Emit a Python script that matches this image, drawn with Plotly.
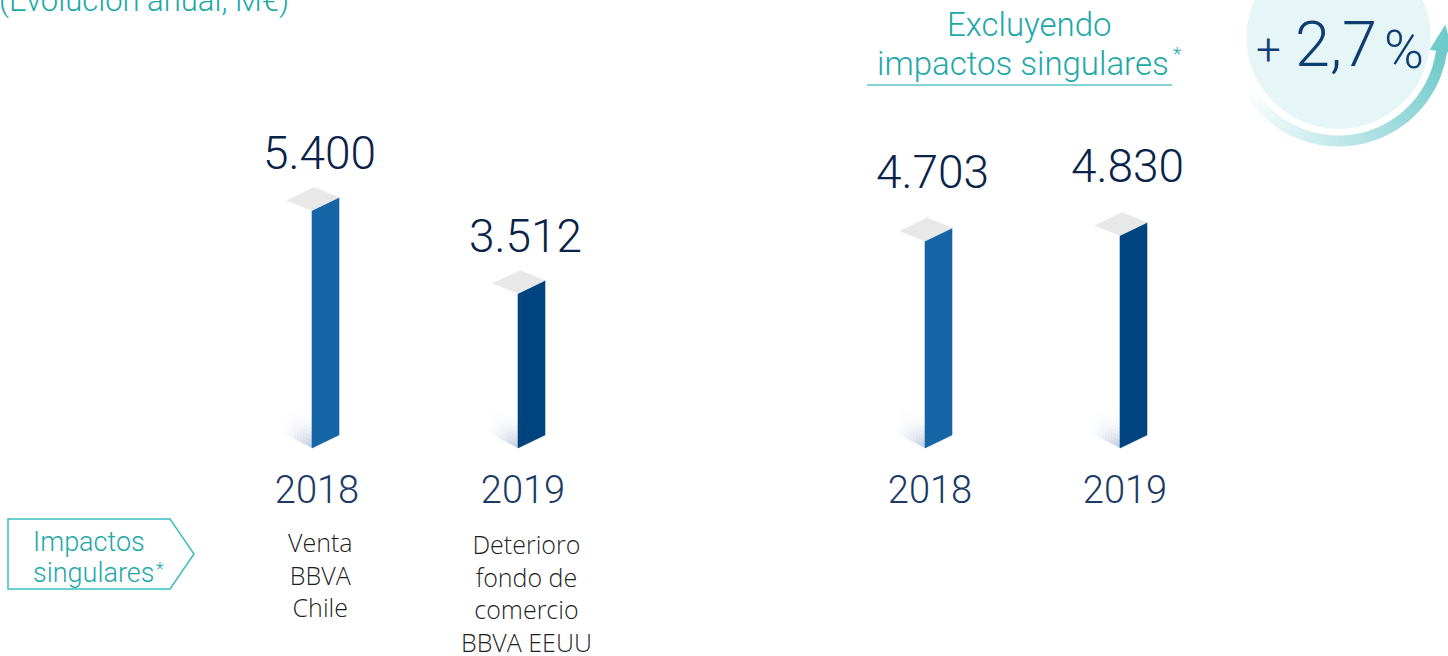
import math
import plotly.graph_objects as go

W, H = 1448, 656

# ---------------- data ----------------
years = ["2018", "2019"]
net_profit_reported = [5400, 3512]          # con impactos singulares
net_profit_excl = [4703, 4830]              # excluyendo impactos singulares
labels_reported = ["5.400", "3.512"]
labels_excl = ["4.703", "4.830"]
impact_notes = ["Venta<br>BBVA<br>Chile", "Deterioro<br>fondo de<br>comercio<br>BBVA EEUU"]
growth_parts = ["+", "2,7", "%"]
title_text = "(Evolución anual, M€)"
box_lines = ["Impactos", "singulares"]
header_lines = ["Excluyendo", "impactos singulares"]

# ---------------- styles ----------------
FONT = "Roboto"
FONT_NOTE = "Open Sans"
TEAL = "#1DA8A8"
NAVY_VAL = "#0B2249"
NAVY_YEAR = "#1C3A66"
NAVY_GROWTH = "#0E3D72"
DARK = "#1F1F1F"
BAR_COLORS = ["#1665A7", "#00447F"]
TOP_COLOR = "#E8E8E8"

BASE_PX = 448          # pixel row of value 0
PPU = 0.044            # pixels per unit
y_range = [(BASE_PX - H) / PPU, BASE_PX / PPU]


def px_x(x):
    return x / W


def px_y(y):
    return 1 - y / H


groups = [
    dict(xaxis="x", slot0=317, step=206, values=net_profit_reported,
         labels=labels_reported, label_shift=57),
    dict(xaxis="x2", slot0=930, step=195, values=net_profit_excl,
         labels=labels_excl, label_shift=69),
]

FRONT_OFF, FRONT_W, RISE = -5, 27, 13
DEPTH_X, DEPTH_Y = -25, 10
SH_X, SH_Y, SH_H = -30, 15, 32

fig = go.Figure()
shapes = []
annotations = []


def poly(xs, ys, color, xaxis):
    fig.add_trace(go.Scatter(
        x=xs + [xs[0]], y=ys + [ys[0]], mode="lines", fill="toself",
        fillcolor=color, line=dict(width=0.6, color=color),
        hoverinfo="skip", showlegend=False, xaxis=xaxis, yaxis="y"))


for g in groups:
    step = g["step"]

    def ux(p):
        return p / step

    def uy(p):
        return p / PPU

    for i, v in enumerate(g["values"]):
        x0 = i + ux(FRONT_OFF)
        wx, wy = ux(FRONT_W), uy(RISE)
        dx, dy = ux(DEPTH_X), uy(DEPTH_Y)
        # shadow (gradient cells)
        ns, nt = 10, 8
        sdx, sdy, sh = ux(SH_X), uy(SH_Y), uy(SH_H)
        for s in range(ns):
            for t in range(nt):
                a0, a1 = s / ns, (s + 1) / ns
                b0, b1 = t / nt, (t + 1) / nt
                am, bm = (a0 + a1) / 2, (b0 + b1) / 2
                alpha = 0.6 * (1 - am) ** 1.4 * (1 - bm) ** 1.6

                def P(a, b):
                    return (x0 + a * sdx, a * sdy + b * sh)
                pts = [P(a0, b0), P(a1, b0), P(a1, b1), P(a0, b1)]
                path = "M " + " L ".join(f"{px},{py}" for px, py in pts) + " Z"
                shapes.append(dict(type="path", path=path, xref=g["xaxis"], yref="y",
                                   fillcolor=f"rgba(140,162,195,{alpha:.3f})",
                                   line=dict(width=0), layer="below"))
        # front face
        poly([x0, x0 + wx, x0 + wx, x0], [0, wy, v + wy, v], BAR_COLORS[i], g["xaxis"])
        # top face
        poly([x0, x0 + wx, x0 + wx + dx, x0 + dx], [v, v + wy, v + wy + dy, v + dy],
             TOP_COLOR, g["xaxis"])
        # value label
        annotations.append(dict(
            x=i, y=v, xref=g["xaxis"], yref="y", text=g["labels"][i], showarrow=False,
            xanchor="center", yanchor="middle", yshift=g["label_shift"], xshift=2,
            font=dict(family=FONT, size=46, color=NAVY_VAL, weight=300)))

# descriptions of singular impacts (left group)
NOTE_TOP = [522.5, 524.5]
for i, note in enumerate(impact_notes):
    annotations.append(dict(
        x=i, y=px_y(NOTE_TOP[i]), xref="x", yref="paper", text=note,
        showarrow=False, xanchor="center", yanchor="top", align="center", xshift=3,
        font=dict(family=FONT_NOTE, size=25, color=DARK, weight=300)))

# title (cut at top)
annotations.append(dict(
    x=px_x(-3), y=px_y(1), xref="paper", yref="paper", text=title_text, showarrow=False,
    xanchor="left", yanchor="middle", font=dict(family=FONT, size=31, color=TEAL, weight=300)))

# "Impactos singulares*" arrow box
box = [(8, 519), (170, 519), (194, 554), (170, 589), (8, 589)]
shapes.append(dict(type="path", xref="paper", yref="paper",
                   path="M " + " L ".join(f"{px_x(a)},{px_y(b)}" for a, b in box) + " Z",
                   line=dict(color="#3DBDBE", width=1.5), fillcolor="white"))
annotations.append(dict(x=px_x(31), y=px_y(542), xref="paper", yref="paper", text=box_lines[0],
                        showarrow=False, xanchor="left", yanchor="middle",
                        font=dict(family=FONT, size=27, color=TEAL, weight=300)))
annotations.append(dict(x=px_x(31), y=px_y(573), xref="paper", yref="paper", text=box_lines[1],
                        showarrow=False, xanchor="left", yanchor="middle",
                        font=dict(family=FONT, size=27, color=TEAL, weight=300)))
annotations.append(dict(x=px_x(160), y=px_y(568), xref="paper", yref="paper", text="*",
                        showarrow=False, xanchor="center", yanchor="middle",
                        font=dict(family=FONT, size=18, color=TEAL, weight=300)))

# header of right group
annotations.append(dict(x=px_x(1029), y=px_y(24), xref="paper", yref="paper", text=header_lines[0],
                        showarrow=False, xanchor="center", yanchor="middle",
                        font=dict(family=FONT, size=33, color=TEAL, weight=300)))
annotations.append(dict(x=px_x(1023), y=px_y(63), xref="paper", yref="paper", text=header_lines[1],
                        showarrow=False, xanchor="center", yanchor="middle",
                        font=dict(family=FONT, size=33, color=TEAL, weight=300)))
annotations.append(dict(x=px_x(1177), y=px_y(54), xref="paper", yref="paper", text="*",
                        showarrow=False, xanchor="center", yanchor="middle",
                        font=dict(family=FONT, size=19, color=TEAL, weight=300)))
shapes.append(dict(type="line", xref="paper", yref="paper", x0=px_x(867), x1=px_x(1172),
                   y0=px_y(85), y1=px_y(85), line=dict(color="#5CC6C7", width=1.5)))

# growth badge
CX, CY, CR = 1338.5, 37, 92
shapes.append(dict(type="circle", xref="paper", yref="paper",
                   x0=px_x(CX - CR), x1=px_x(CX + CR), y0=px_y(CY + CR), y1=px_y(CY - CR),
                   fillcolor="#E6F5F6", line=dict(width=0), layer="below"))
AR, AHW = 104, 5.5
a_start, a_end = 150.0, 7.0
nseg = 70
c_end = (108, 200, 201)
for k in range(nseg):
    t0 = k / nseg
    t1 = (k + 1.15) / nseg if k < nseg - 1 else 1.0
    a0 = math.radians(a_start + (a_end - a_start) * t0)
    a1 = math.radians(a_start + (a_end - a_start) * t1)
    pts = [(CX + (AR - AHW) * math.cos(a0), CY + (AR - AHW) * math.sin(a0)),
           (CX + (AR + AHW) * math.cos(a0), CY + (AR + AHW) * math.sin(a0)),
           (CX + (AR + AHW) * math.cos(a1), CY + (AR + AHW) * math.sin(a1)),
           (CX + (AR - AHW) * math.cos(a1), CY + (AR - AHW) * math.sin(a1))]
    tm = (k + 0.5) / nseg
    col = tuple(int(round(255 + (c - 255) * tm)) for c in c_end)
    shapes.append(dict(type="path", xref="paper", yref="paper",
                       path="M " + " L ".join(f"{px_x(a)},{px_y(b)}" for a, b in pts) + " Z",
                       fillcolor=f"rgb{col}", line=dict(width=0)))
ae = math.radians(a_end + 1)
ex, ey = CX + AR * math.cos(ae), CY + AR * math.sin(ae)
tx, ty = math.sin(ae), -math.cos(ae)
nx, ny = math.cos(ae), math.sin(ae)
head = [(ex + 12 * nx, ey + 12 * ny), (ex + 27 * tx, ey + 27 * ty), (ex - 12 * nx, ey - 12 * ny)]
shapes.append(dict(type="path", xref="paper", yref="paper",
                   path="M " + " L ".join(f"{px_x(a)},{px_y(b)}" for a, b in head) + " Z",
                   fillcolor="rgb(112,203,204)", line=dict(width=0)))

annotations.append(dict(x=px_x(1268), y=px_y(50), xref="paper", yref="paper", text=growth_parts[0],
                        showarrow=False, xanchor="center", yanchor="middle",
                        font=dict(family=FONT, size=44, color=NAVY_GROWTH, weight=300)))
annotations.append(dict(x=px_x(1336), y=px_y(44.5), xref="paper", yref="paper", text=growth_parts[1],
                        showarrow=False, xanchor="center", yanchor="middle",
                        font=dict(family=FONT, size=63, color=NAVY_GROWTH, weight=300)))
annotations.append(dict(x=px_x(1404), y=px_y(50), xref="paper", yref="paper", text=growth_parts[2],
                        showarrow=False, xanchor="center", yanchor="middle",
                        font=dict(family=FONT, size=54, color=NAVY_GROWTH, weight=300)))


def xaxis_cfg(g):
    return dict(domain=[px_x(g["slot0"] - g["step"] / 2), px_x(g["slot0"] + 1.5 * g["step"])],
                range=[-0.5, 1.5], anchor="free", position=px_y(464),
                tickvals=[0, 1], ticktext=years, ticks="", showline=False, showgrid=False,
                zeroline=False, fixedrange=True,
                tickfont=dict(family=FONT, size=38, color=NAVY_YEAR, weight=300))


fig.update_layout(
    width=W, height=H, margin=dict(l=0, r=0, t=0, b=0, pad=0),
    paper_bgcolor="white", plot_bgcolor="rgba(0,0,0,0)", showlegend=False,
    yaxis=dict(domain=[0, 1], range=y_range, visible=False, fixedrange=True),
    xaxis=xaxis_cfg(groups[0]),
    xaxis2=xaxis_cfg(groups[1]),
    shapes=shapes, annotations=annotations,
)

fig.write_html("out.html", config={"displayModeBar": False},
               post_script="document.body.style.margin='0';")
